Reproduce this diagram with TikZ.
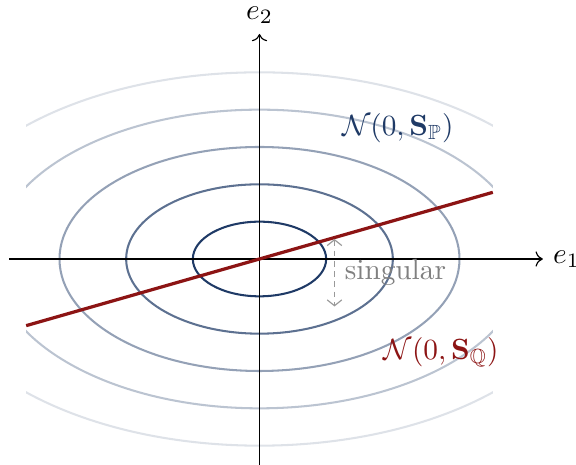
\documentclass[tikz,border=0pt]{standalone}
\usepackage{amsmath,amssymb}
\usetikzlibrary{arrows.meta}
\definecolor{cP}{RGB}{31,58,102}
\definecolor{cQ}{RGB}{140,20,20}
\begin{document}
\begin{tikzpicture}[every node/.style={font=\normalsize},
    levelset/.style={cP,line width=0.7pt},
    axisline/.style={->,thin}]
  \useasboundingbox (-3.114,-2.472) rectangle (3.798,3.108);
  \coordinate (O) at (0,0);
  % level sets of N(0,S_P), cut at the sides
  \begin{scope}
    \clip (-2.8,-2.6) rectangle (2.8,2.7);
    \foreach \k/\op in {1/1,2/0.72,3/0.48,4/0.3,5/0.15}{%
      \draw[levelset,draw opacity=\op] (O) ellipse ({0.8*\k} and {0.448*\k});
    }
  \end{scope}
  % axes
  \coordinate (xL) at (-3,0);
  \coordinate (xR) at (3.4,0);
  \coordinate (yB) at (0,-2.5);
  \coordinate (yT) at (0,2.7);
  \draw[axisline] (xL) -- (xR) node[right] (eOne) {$e_1$};
  \draw[axisline] (yB) -- (yT) node[above] (eTwo) {$e_2$};
  % support of N(0,S_Q)
  \coordinate (qL) at (-2.8,-0.8);
  \coordinate (qR) at (2.8,0.8);
  \draw[cQ,line width=1.1pt] (qL) -- (qR);
  % singular gap
  \coordinate (sTop) at (0.9,0.24);
  \coordinate (sBot) at (0.9,-0.57);
  \draw[{Straight Barb[length=2pt,width=5pt]}-{Straight Barb[length=2pt,width=5pt]},
        gray!80,dash pattern=on 2pt off 1.5pt] (sTop) -- (sBot)
    node[midway,right,gray] (sing) {singular};
  % labels
  \node[cP] (nP) at (1.66,1.57) {$\mathcal{N}(0,\mathbf{S}_{\mathbb{P}})$};
  \node[cQ] (nQ) at (2.18,-1.12) {$\mathcal{N}(0,\mathbf{S}_{\mathbb{Q}})$};
\end{tikzpicture}
\end{document}
